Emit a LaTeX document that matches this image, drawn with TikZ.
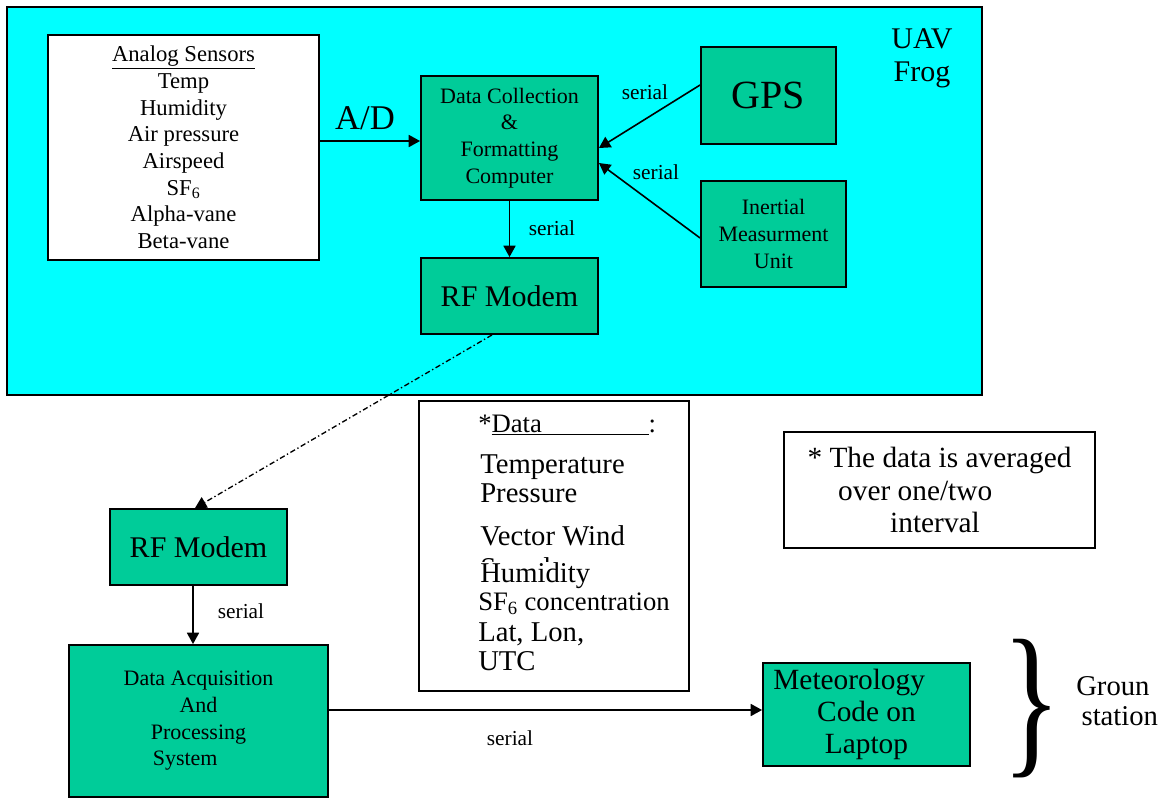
\documentclass[tikz,border=0pt]{standalone}
\usepackage{fontspec}
\setmainfont{Liberation Serif}
\usetikzlibrary{arrows.meta}
\definecolor{uavcyan}{RGB}{0,255,255}
\definecolor{boxgreen}{RGB}{0,204,153}
\newcommand{\fsz}[2]{\fontsize{#1}{#2}\selectfont}
\begin{document}
\begin{tikzpicture}[x=0.75pt,y=-0.75pt,
  gbox/.style={draw=black, line width=1.4pt, fill=boxgreen, inner sep=0pt, align=center, text=black},
  wbox/.style={draw=black, line width=1.4pt, fill=white, inner sep=0pt, align=center},
  arr/.style={line width=1.2pt, -{Triangle[length=8.5pt,width=9pt]}},
  lbl/.style={font=\fsz{16}{19}, inner sep=0pt},
  dline/.style={anchor=base west, inner sep=0pt, font=\fsz{21.5}{24}},
  dsmall/.style={anchor=base west, inner sep=0pt, font=\fsz{20}{24}},
]
\useasboundingbox (0,0) rectangle (1170,797);

% UAV frame
\node[draw=black, line width=1.4pt, fill=uavcyan, minimum width=731.25pt, minimum height=291pt, inner sep=0pt] (uav) at (494.5,201) {};
\node[align=center, inner sep=0pt, font=\fsz{22.5}{25}] (uavlbl) at (922,58) {UAV\\Frog};

% Boxes in UAV
\node[wbox, minimum width=203.25pt, minimum height=168.75pt, font=\fsz{17}{20}] (analog) at (183.5,147.5)
  {\underline{Analog Sensors}\\Temp\\Humidity\\Air pressure\\Airspeed\\SF\textsubscript{6}\\Alpha-vane\\Beta-vane};
\node[gbox, minimum width=132.75pt, minimum height=93pt, font=\fsz{16.5}{20}] (dcc) at (509.5,138)
  {Data Collection\\\&\\Formatting\\Computer};
\node[gbox, minimum width=101.25pt, minimum height=72.75pt, font=\fsz{30}{34}] (gps) at (768.5,95.5) {GPS};
\node[gbox, minimum width=108.75pt, minimum height=79.5pt, font=\fsz{16.5}{20}] (imu) at (773.5,234)
  {Inertial\\Measurment\\Unit};
\node[gbox, minimum width=132.75pt, minimum height=57pt, font=\fsz{22.5}{26}] (rf1) at (509.5,296) {RF Modem};

% Ground boxes
\node[gbox, minimum width=132.75pt, minimum height=57pt, font=\fsz{22.5}{26}] (rf2) at (198.5,547) {RF Modem};
\node[gbox, minimum width=194.25pt, minimum height=114pt, font=\fsz{16.5}{20}] (daps) at (198.5,721)
  {Data Acquisition\\And\\Processing\\System\hspace*{20pt}};
\node[gbox, minimum width=155.25pt, minimum height=77.25pt, font=\fsz{22}{24}] (met) at (866.5,714.5)
  {Meteorology\hspace*{26pt}\\Code on\\Laptop};

% Data box
\node[wbox, minimum width=202.5pt, minimum height=217.5pt] (databox) at (554,546) {};
\node[dsmall] (d1) at (478,432) {*\underline{Data\hspace*{80pt}}:};
\node[dline] (d2) at (480,473) {Temperature};
\node[dline] (d3) at (480,502) {Pressure};
\node[dline] (d4) at (480,545) {Vector Wind};
\begin{scope}
  \clip (470,553) rectangle (640,561);
  \node[dline] (dspeed) at (480,577) {Speed};
\end{scope}
\node[dline] (d5) at (480,582) {Humidity};
\node[dsmall] (d6) at (478,610) {SF\textsubscript{6} concentration};
\node[dline] (d7) at (478,641) {Lat, Lon,};
\node[dline] (d8) at (478,670) {UTC};

% Note box
\node[wbox, minimum width=233.25pt, minimum height=87pt, align=left, font=\fsz{22}{24.5}] (note) at (939.5,490)
  {* The data is averaged\\\hspace*{23pt}over one/two\\\hspace*{62pt}interval};

% Brace and ground station label
\node[inner sep=0pt] (brace) at (1032,709) {\resizebox*{44pt}{104pt}{\}}};
\node[anchor=west, align=left, inner sep=0pt, font=\fsz{21.5}{22.5}] (ground) at (1076,701) {Groun\\\hspace*{4pt}station};

% Connectors
\draw[arr] (analog.east |- 0,141) -- (dcc.west |- 0,141);
\node[inner sep=0pt, font=\fsz{26}{28}] (ad) at (365,118) {A/D};
\draw[arr] (gps.west |- 0,85) -- (dcc.east |- 0,148);
\node[lbl] (s1) at (645,92) {serial};
\draw[arr] (imu.west |- 0,238) -- (dcc.east |- 0,163);
\node[lbl] (s2) at (656,172) {serial};
\draw[arr] (dcc.south) -- (rf1.north);
\node[lbl] (s3) at (552,228) {serial};
\draw[line width=1pt, dash pattern=on 4pt off 2pt on 1pt off 2pt, -{Triangle[length=8.5pt,width=9pt]}]
  (rf1.south -| 492,0) -- (rf2.north -| 195,0);
\draw[arr] (rf2.south -| 193,0) -- (daps.north -| 193,0);
\node[lbl] (s4) at (241,611) {serial};
\draw[arr] (daps.east |- 0,710) -- (met.west |- 0,710);
\node[lbl] (s5) at (510,738) {serial};
\end{tikzpicture}
\end{document}
